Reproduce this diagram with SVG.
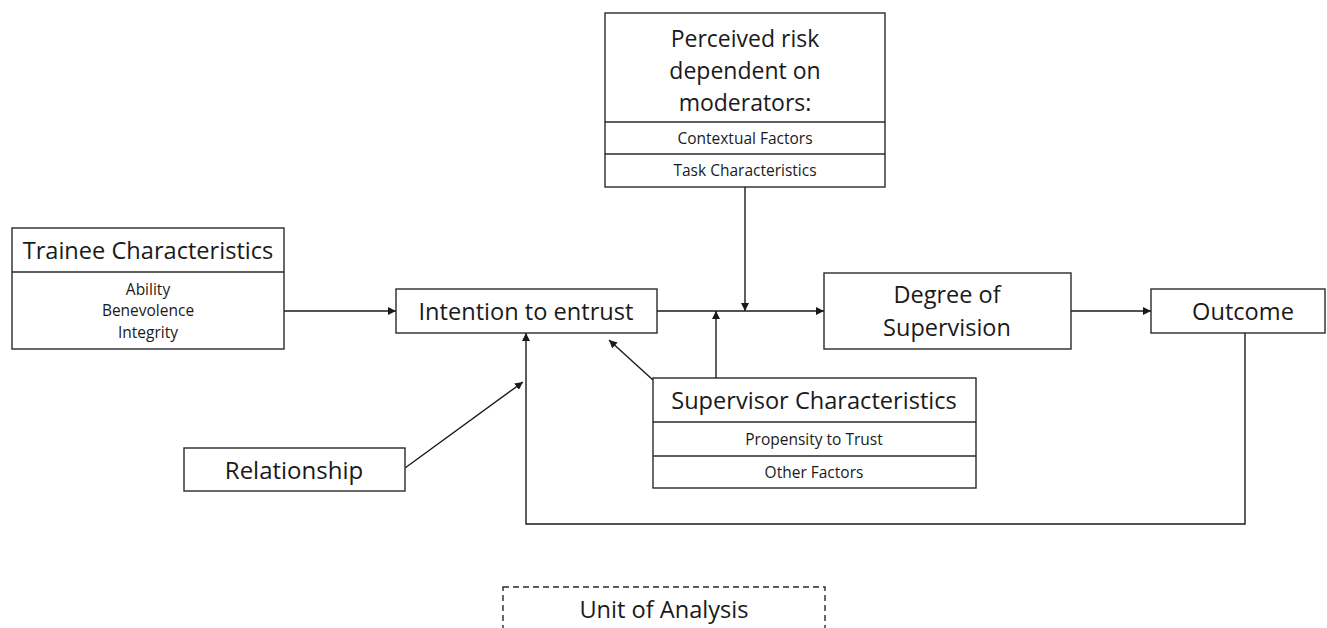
<svg xmlns="http://www.w3.org/2000/svg" width="1327" height="628" viewBox="0 0 1327 628">
<defs>
<marker id="ah" viewBox="0 0 10 10" refX="10" refY="5" markerWidth="8" markerHeight="8" markerUnits="userSpaceOnUse" orient="auto">
<path d="M0,0 L10,5 L0,10 z" fill="#1a1a1a"/>
</marker>
<style>
.box{fill:#fff;stroke:#2a2a2a;stroke-width:1.4}
.div{stroke:#2a2a2a;stroke-width:1.4}
.conn{fill:none;stroke:#1a1a1a;stroke-width:1.4;marker-end:url(#ah)}
text{font-family:"Open Sans","Noto Sans",sans-serif;fill:#1a1a1a;text-anchor:middle;dominant-baseline:central}
.big{font-size:23.6px}
.small{font-size:15.5px}
</style>
</defs>
<rect width="1327" height="628" fill="#fff"/>
<g id="connectors">
<line class="conn" x1="284" y1="311" x2="396" y2="311"/>
<line class="conn" x1="657" y1="311" x2="824" y2="311"/>
<line class="conn" x1="745" y1="187" x2="745" y2="311"/>
<line class="conn" x1="716" y1="378" x2="716" y2="311"/>
<line class="conn" x1="653" y1="380" x2="609" y2="340"/>
<line class="conn" x1="405" y1="468" x2="523" y2="382"/>
<line class="conn" x1="1071" y1="311" x2="1151" y2="311"/>
<polyline class="conn" points="1245,333 1245,524 526,524 526,333"/>
</g>
<g id="trainee">
<rect class="box" x="12" y="228" width="272" height="121"/>
<line class="div" x1="12" y1="272" x2="284" y2="272"/>
<text class="big" x="148" y="250">Trainee Characteristics</text>
<text class="small" x="148" y="289">Ability</text>
<text class="small" x="148" y="310">Benevolence</text>
<text class="small" x="148" y="332">Integrity</text>
</g>
<g id="intention">
<rect class="box" x="396" y="289" width="261" height="44"/>
<text class="big" x="526" y="311">Intention to entrust</text>
</g>
<g id="perceived">
<rect class="box" x="605" y="13" width="280" height="174"/>
<line class="div" x1="605" y1="122" x2="885" y2="122"/>
<line class="div" x1="605" y1="154" x2="885" y2="154"/>
<text class="big" x="745" y="38" style="font-size:23px">Perceived risk</text>
<text class="big" x="745" y="70" style="font-size:23px">dependent on</text>
<text class="big" x="745" y="102" style="font-size:23px">moderators:</text>
<text class="small" x="745" y="138">Contextual Factors</text>
<text class="small" x="745" y="170">Task Characteristics</text>
</g>
<g id="degree">
<rect class="box" x="824" y="273" width="247" height="76"/>
<text class="big" x="947" y="294" style="font-size:23.5px">Degree of</text>
<text class="big" x="947" y="327" style="font-size:23.5px">Supervision</text>
</g>
<g id="outcome">
<rect class="box" x="1151" y="289" width="174" height="44"/>
<text class="big" x="1243" y="311">Outcome</text>
</g>
<g id="supervisor">
<rect class="box" x="653" y="378" width="323" height="110"/>
<line class="div" x1="653" y1="422" x2="976" y2="422"/>
<line class="div" x1="653" y1="456" x2="976" y2="456"/>
<text class="big" x="814" y="400">Supervisor Characteristics</text>
<text class="small" x="814" y="439">Propensity to Trust</text>
<text class="small" x="814" y="472">Other Factors</text>
</g>
<g id="relationship">
<rect class="box" x="184" y="448" width="221" height="43"/>
<text class="big" x="294" y="469" style="font-size:24px">Relationship</text>
</g>
<g id="unit">
<rect x="503" y="587" width="322" height="60" fill="none" stroke="#2a2a2a" stroke-width="1.4" stroke-dasharray="6,4"/>
<text class="big" x="664" y="609">Unit of Analysis</text>
</g>
</svg>
